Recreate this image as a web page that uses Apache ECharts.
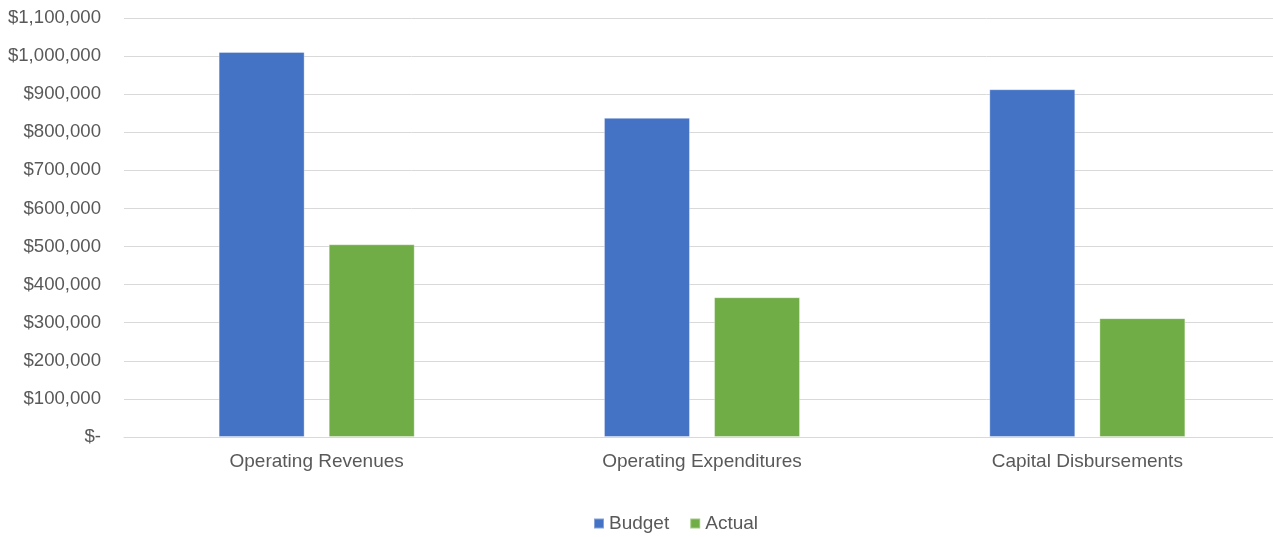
<!DOCTYPE html>
<html>
<head>
<meta charset="utf-8">
<script src="https://cdn.jsdelivr.net/npm/echarts@6/dist/echarts.min.js"></script>
<style>
  html, body { margin: 0; padding: 0; background: #fff; }
  #chart { width: 1273px; height: 537px; }
</style>
</head>
<body>
<div id="chart"></div>
<script>
  // data
  var categories = ['Operating Revenues', 'Operating Expenditures', 'Capital Disbursements'];
  var budget = [1011000, 838000, 913000];
  var actual = [506000, 367000, 312000];

  function money(v) {
    if (v === 0) return '$-';
    return '$' + String(v).replace(/\B(?=(\d{3})+(?!\d))/g, ',');
  }

  var font = 'Liberation Sans, Arial, sans-serif';
  var grey = '#595959';

  var chart = echarts.init(document.getElementById('chart'));
  chart.setOption({
    animation: false,
    color: ['#4472C4', '#70AD47'],
    grid: { left: 124, top: 18, right: -7, height: 419, outerBoundsMode: 'none' },
    legend: {
      top: 509,
      left: 588,
      itemWidth: 10,
      itemHeight: 10,
      itemGap: 20,
      icon: 'rect',
      textStyle: { color: grey, fontSize: 19, fontFamily: font },
      data: ['Budget', 'Actual']
    },
    xAxis: {
      type: 'category',
      data: categories,
      axisLine: { lineStyle: { color: '#d9d9d9', width: 1 } },
      axisTick: { show: false },
      axisLabel: { margin: 15, color: grey, fontSize: 19, fontFamily: font }
    },
    yAxis: {
      type: 'value',
      min: 0,
      max: 1100000,
      interval: 100000,
      axisLine: { show: false },
      axisTick: { show: false },
      splitLine: { lineStyle: { color: '#d9d9d9', width: 1 } },
      axisLabel: { margin: 23, formatter: money, color: grey, fontSize: 18.6, fontFamily: font }
    },
    series: [
      {
        name: 'Budget', type: 'bar', data: budget,
        barWidth: 86, barGap: '28%',
        itemStyle: { borderColor: 'rgba(255,255,255,0.35)', borderWidth: 1 }
      },
      {
        name: 'Actual', type: 'bar', data: actual,
        barWidth: 86,
        itemStyle: { borderColor: 'rgba(255,255,255,0.35)', borderWidth: 1 }
      }
    ]
  });
</script>
</body>
</html>
